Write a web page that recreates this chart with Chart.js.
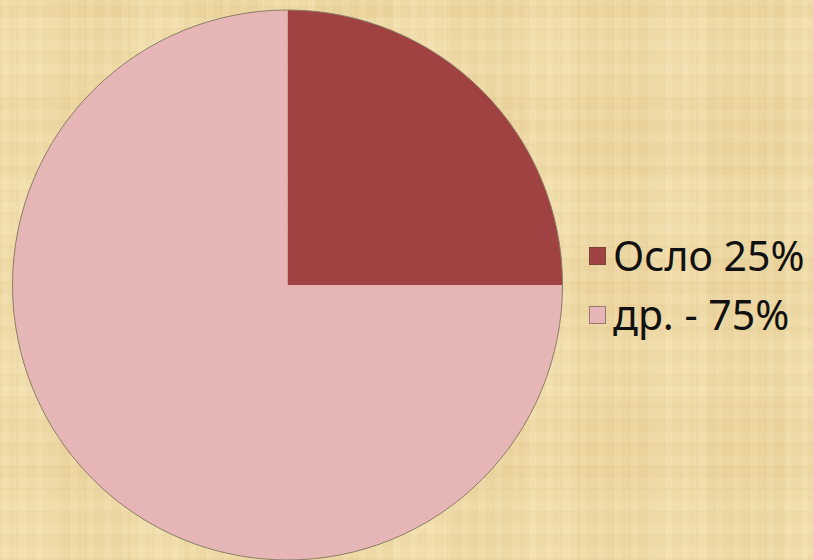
<!DOCTYPE html>
<html>
<head>
<meta charset="utf-8">
<script src="https://cdn.jsdelivr.net/npm/chart.js@4"></script>
<style>
  html, body { margin: 0; padding: 0; }
  body {
    width: 813px; height: 560px; overflow: hidden; position: relative;
    background-color: #efdba8;
    background-image:
      repeating-linear-gradient(90deg, rgba(190,150,80,0.06) 0 2px, rgba(255,245,210,0.06) 2px 9px, rgba(200,160,90,0.04) 9px 17px),
      repeating-linear-gradient(0deg, rgba(190,150,80,0.05) 0 3px, rgba(255,245,215,0.07) 3px 13px, rgba(200,160,90,0.03) 13px 23px),
      repeating-linear-gradient(90deg, rgba(255,240,200,0.10) 0 53px, rgba(210,170,100,0.06) 53px 131px),
      repeating-linear-gradient(0deg, rgba(255,240,205,0.08) 0 71px, rgba(210,170,100,0.05) 71px 157px);
    font-family: "Noto Sans", sans-serif;
  }
  #wrap { position: absolute; left: 0; top: 0; width: 575px; height: 560px; }
  #legend { position: absolute; left: 589px; top: 0; }
  .item { position: absolute; left: 0; white-space: nowrap; }
  .box { position: absolute; left: 0; width: 17px; height: 18px; box-sizing: border-box; border: 1px solid rgba(90,70,60,0.55); }
  .lbl { position: absolute; left: 24px; font-size: 41px; line-height: 59px; color: #111; }
</style>
</head>
<body>
<div id="wrap"><canvas id="myChart"></canvas></div>
<div id="legend"></div>
<script>
// Data
const labels = ['Осло 25%', 'др. - 75%'];
const values = [25, 75];
const colors = ['#a04142', '#e6b6b7'];

// outer rim only, no radial lines between slices
const rimPlugin = {
    id: 'rim',
    afterDatasetsDraw(chart) {
        const arc = chart.getDatasetMeta(0).data[0];
        if (!arc) return;
        const ctx = chart.ctx;
        ctx.save();
        ctx.beginPath();
        ctx.arc(arc.x, arc.y, arc.outerRadius, 0, Math.PI * 2);
        ctx.lineWidth = 1;
        ctx.strokeStyle = '#8a7c66';
        ctx.stroke();
        ctx.restore();
    }
};

const ctx = document.getElementById('myChart').getContext('2d');
const chart = new Chart(ctx, {
    type: 'pie',
    data: {
        labels: labels,
        datasets: [{
            data: values,
            backgroundColor: colors,
            borderWidth: 0
        }]
    },
    options: {
        responsive: true,
        maintainAspectRatio: false,
        animation: false,
        layout: { padding: { top: 10, bottom: 0, left: 0, right: 0 } },
        plugins: {
            legend: { display: false },
            tooltip: { enabled: false }
        }
    },
    plugins: [rimPlugin]
});

// legend built from the chart's own labels
const legendEl = document.getElementById('legend');
const items = chart.options.plugins.legend.labels.generateLabels(chart);
items.forEach((it, i) => {
    const row = document.createElement('div');
    row.className = 'item';
    row.style.top = (226 + i * 59) + 'px';
    row.innerHTML = `<div class="box" style="top:21px;background:${it.fillStyle}"></div><div class="lbl">${it.text}</div>`;
    legendEl.appendChild(row);
});
</script>
</body>
</html>
